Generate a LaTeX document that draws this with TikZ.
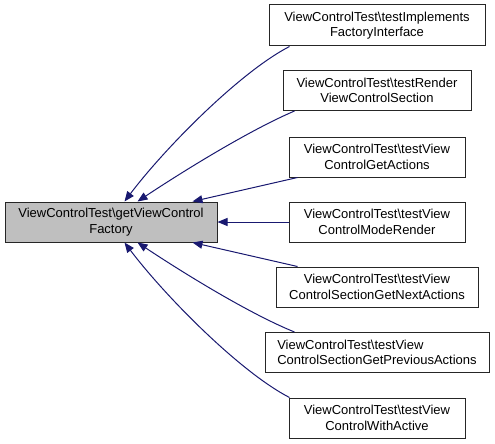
\documentclass[tikz,border=0pt]{standalone}
\usepackage{fontspec}
\setmainfont{Liberation Sans}
\usetikzlibrary{arrows.meta}
\definecolor{edgeblue}{HTML}{191970}
\definecolor{nodegray}{HTML}{BFBFBF}
\begin{document}
\begin{tikzpicture}[x=1pt,y=-1pt,
  box/.style={draw=black!85, line width=1pt, fill=white, minimum height=40pt, inner sep=0pt, align=center, font=\fontsize{13}{15.5}\selectfont},
  edge/.style={draw=edgeblue, line width=1pt, -{Triangle[length=10pt,width=8pt,fill=edgeblue]}},
]
\useasboundingbox (0,0) rectangle (495,444);
\node[box, fill=nodegray, minimum width=212pt] (L) at (111,222) {ViewControlTest\textbackslash getViewControl\\Factory};
\node[box, minimum width=216pt, minimum height=41pt] (N1) at (377,25.5) {ViewControlTest\textbackslash testImplements\\FactoryInterface};
\node[box, minimum width=188pt] (N2) at (377,90.5) {ViewControlTest\textbackslash testRender\\ViewControlSection};
\node[box, minimum width=176pt] (N3) at (377,157) {ViewControlTest\textbackslash testView\\ControlGetActions};
\node[box, minimum width=176pt] (N4) at (377,222) {ViewControlTest\textbackslash testView\\ControlModeRender};
\node[box, minimum width=202pt] (N5) at (377,287) {ViewControlTest\textbackslash testView\\ControlSectionGetNextActions};
\node[box, minimum width=224pt, align=left] (N6) at (377,352.5) {ViewControlTest\textbackslash testView\\ControlSectionGetPreviousActions};
\node[box, minimum width=176pt] (N7) at (377,418) {ViewControlTest\textbackslash testView\\ControlWithActive};

\draw[edge] ([xshift=21pt]N1.south west) .. controls (240,72) and (165,148) .. ([xshift=120pt]L.north west);
\draw[edge] ([xshift=12pt]N2.south west) .. controls (250,130) and (185,170) .. ([xshift=133pt]L.north west);
\draw[edge] ([xshift=9pt]N3.south west) -- ([xshift=188pt]L.north west);
\draw[edge] (N4.west) -- (L.east);
\draw[edge] ([xshift=22pt]N5.north west) -- ([xshift=188pt]L.south west);
\draw[edge] ([xshift=30pt]N6.north west) .. controls (250,314) and (185,274) .. ([xshift=133pt]L.south west);
\draw[edge] ([xshift=1pt]N7.north west) .. controls (240,372) and (165,296) .. ([xshift=120pt]L.south west);
\end{tikzpicture}
\end{document}
